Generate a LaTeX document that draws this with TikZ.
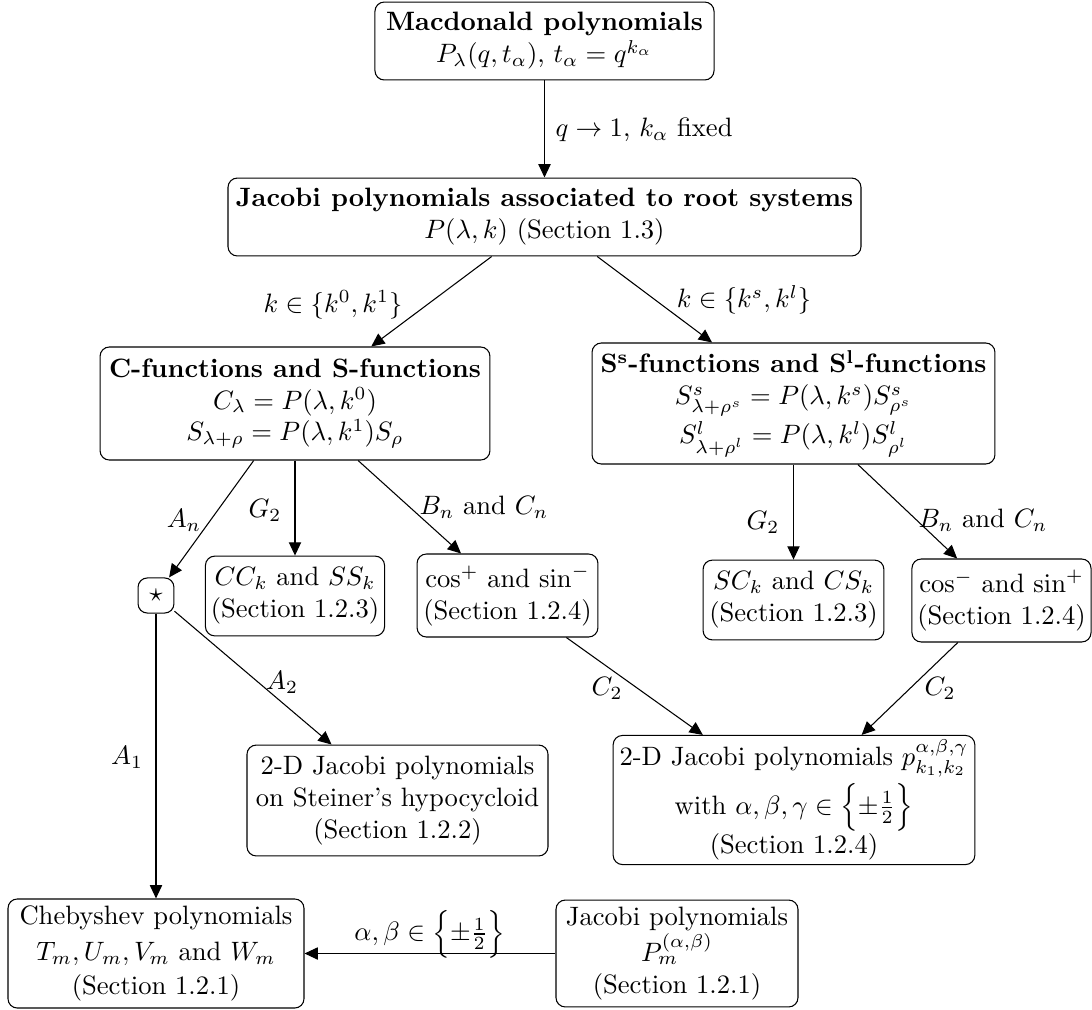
\documentclass[tikz,border=0pt]{standalone}
\usetikzlibrary{arrows.meta}
\begin{document}
\begin{tikzpicture}[x=0.376pt,y=-0.376pt,
  box/.style={draw, rounded corners=3.5pt, align=center, inner sep=2pt, line width=0.4pt},
  arr/.style={-{Triangle[length=5pt,width=4.6pt]}, line width=0.4pt},
  lab/.style={inner sep=0pt}]
\useasboundingbox (0,0) rectangle (1092,1010);
% nodes
\node[box, minimum width=127.5pt, minimum height=29.3pt] (mac) at (544.5,41)
  {\textbf{Macdonald polynomials}\\ $P_\lambda(q,t_\alpha)$, $t_\alpha=q^{k_\alpha}$};
\node[box, minimum width=238pt, minimum height=29.3pt] (jac) at (544.5,217)
  {\textbf{Jacobi polynomials associated to root systems}\\ $P(\lambda,k)$ (Section 1.3)};
\node[box, minimum width=146.6pt, minimum height=42.5pt] (cfun) at (295,403.5)
  {\textbf{C-functions and S-functions}\\ $C_\lambda=P(\lambda,k^0)$\\ $S_{\lambda+\rho}=P(\lambda,k^1)S_\rho$};
\node[box, minimum width=151.5pt, minimum height=45.5pt, inner sep=1.5pt] (sfun) at (793.5,403.5)
  {\textbf{S\textsuperscript{s}-functions and S\textsuperscript{l}-functions}\\
   $S^s_{\lambda+\rho^s}=P(\lambda,k^s)S^s_{\rho^s}$\\[1pt]
   $S^l_{\lambda+\rho^l}=P(\lambda,k^l)S^l_{\rho^l}$};
\node[box, minimum width=13.5pt, minimum height=13.2pt, inner sep=1pt] (star) at (156,595.5) {$\star$};
\node[box, minimum width=67.3pt, minimum height=30pt] (cck) at (295,596)
  {$CC_k$ and $SS_k$\\ (Section 1.2.3)};
\node[box, minimum width=68pt, minimum height=31.2pt] (cosp) at (507.5,595.5)
  {$\cos^+$ and $\sin^-$\\ (Section 1.2.4)};
\node[box, minimum width=68pt, minimum height=30pt] (sck) at (793.5,600)
  {$SC_k$ and $CS_k$\\ (Section 1.2.3)};
\node[box, minimum width=65.8pt, minimum height=31.2pt] (cosm) at (1001.5,600.5)
  {$\cos^-$ and $\sin^+$\\ (Section 1.2.4)};
\node[box, minimum width=113.2pt, minimum height=41.7pt] (stein) at (397.5,800.5)
  {2-D Jacobi polynomials\\ on Steiner's hypocycloid\\ (Section 1.2.2)};
\node[box, minimum width=136pt, minimum height=48.1pt, inner sep=1.5pt] (twod) at (794,800)
  {2-D Jacobi polynomials $p^{\alpha,\beta,\gamma}_{k_1,k_2}$\\[1.5pt]
   with $\alpha,\beta,\gamma\in\Bigl\{\pm\frac{1}{2}\Bigr\}$\\ (Section 1.2.4)};
\node[box, minimum width=111.3pt, minimum height=41pt] (cheb) at (156,953.5)
  {Chebyshev polynomials\\[1.5pt] $T_m,U_m,V_m$ and $W_m$\\[1pt] (Section 1.2.1)};
\node[box, minimum width=91pt, minimum height=40.2pt, inner sep=1.5pt] (jacm) at (677,953.5)
  {Jacobi polynomials\\ $P_m^{(\alpha,\beta)}$\\ (Section 1.2.1)};
% connectors
\draw[arr] (mac) -- (jac);
\draw[arr] (jac) -- (cfun);
\draw[arr] (jac) -- (sfun);
\draw[arr] (cfun) -- (star);
\draw[arr] (cfun) -- (cck);
\draw[arr] (cfun) -- (cosp);
\draw[arr] (sfun) -- (sck);
\draw[arr] (sfun) -- (cosm);
\draw[arr] (star) -- (cheb);
\draw[arr] (star) -- (stein);
\draw[arr] (cosp) -- (twod);
\draw[arr] (cosm) -- (twod);
\draw[arr] (jacm) -- (cheb);
% labels
\node[lab, anchor=west] (l1) at (555,130) {$q\to1$, $k_\alpha$ fixed};
\node[lab] (l2) at (333,305) {$k\in\{k^0,k^1\}$};
\node[lab] (l3) at (744,300) {$k\in\{k^s,k^l\}$};
\node[lab] (l4) at (184,520) {$A_n$};
\node[lab] (l5) at (265,510) {$G_2$};
\node[lab] (l6) at (484,507) {$B_n$ and $C_n$};
\node[lab] (l7) at (763,522) {$G_2$};
\node[lab] (l8) at (983,520) {$B_n$ and $C_n$};
\node[lab] (l9) at (127,757) {$A_1$};
\node[lab] (l10) at (282,682) {$A_2$};
\node[lab] (l11) at (607,688) {$C_2$};
\node[lab] (l12) at (940,688) {$C_2$};
\node[lab] (l13) at (430,934) {$\alpha,\beta\in\Bigl\{\pm\frac{1}{2}\Bigr\}$};
\end{tikzpicture}
\end{document}
